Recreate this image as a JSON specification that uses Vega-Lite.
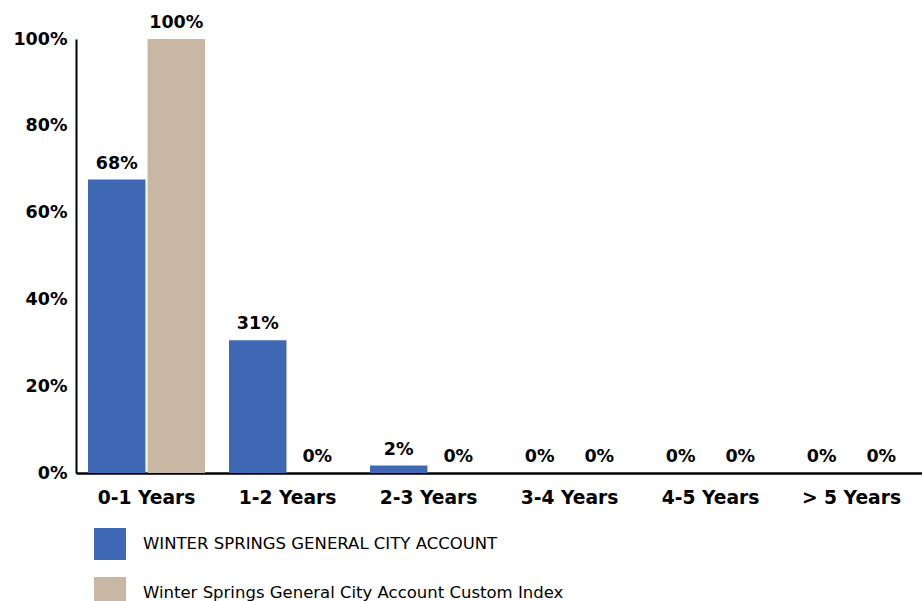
{
  "$schema": "https://vega.github.io/schema/vega-lite/v6.json",
  "width": 846,
  "height": 434,
  "autosize": "none",
  "padding": {"left": 76, "top": 39, "right": 0, "bottom": 128},
  "background": "white",
  "config": {"view": {"stroke": null}, "font": "DejaVu Sans"},
  "data": {"values": [
    {"bucket": "0-1 Years", "series": "WINTER SPRINGS GENERAL CITY ACCOUNT", "value": 0.676},
    {"bucket": "0-1 Years", "series": "Winter Springs General City Account Custom Index", "value": 1.0},
    {"bucket": "1-2 Years", "series": "WINTER SPRINGS GENERAL CITY ACCOUNT", "value": 0.306},
    {"bucket": "1-2 Years", "series": "Winter Springs General City Account Custom Index", "value": 0.0},
    {"bucket": "2-3 Years", "series": "WINTER SPRINGS GENERAL CITY ACCOUNT", "value": 0.017},
    {"bucket": "2-3 Years", "series": "Winter Springs General City Account Custom Index", "value": 0.0},
    {"bucket": "3-4 Years", "series": "WINTER SPRINGS GENERAL CITY ACCOUNT", "value": 0.0},
    {"bucket": "3-4 Years", "series": "Winter Springs General City Account Custom Index", "value": 0.0},
    {"bucket": "4-5 Years", "series": "WINTER SPRINGS GENERAL CITY ACCOUNT", "value": 0.0},
    {"bucket": "4-5 Years", "series": "Winter Springs General City Account Custom Index", "value": 0.0},
    {"bucket": "> 5 Years", "series": "WINTER SPRINGS GENERAL CITY ACCOUNT", "value": 0.0},
    {"bucket": "> 5 Years", "series": "Winter Springs General City Account Custom Index", "value": 0.0}
  ]},
  "encoding": {
    "x": {
      "field": "bucket", "type": "nominal", "sort": null,
      "scale": {"paddingInner": 0.17, "paddingOuter": 0.085},
      "axis": {
        "title": null, "labelAngle": 0, "ticks": false,
        "domainColor": "#000000", "domainWidth": 2.5,
        "labelFont": "DejaVu Sans", "labelFontWeight": "bold", "labelFontSize": 18.7,
        "labelColor": "#000000", "labelPadding": 15
      }
    },
    "xOffset": {"field": "series", "type": "nominal", "scale": {"paddingInner": 0.035}},
    "y": {
      "field": "value", "type": "quantitative",
      "scale": {"domain": [0, 1], "nice": false},
      "axis": {
        "title": null, "format": ".0%", "values": [0, 0.2, 0.4, 0.6, 0.8, 1],
        "grid": false, "ticks": false,
        "domainColor": "#000000", "domainWidth": 2,
        "labelFont": "DejaVu Sans", "labelFontWeight": "bold", "labelFontSize": 17.5,
        "labelColor": "#000000", "labelPadding": 9
      }
    }
  },
  "layer": [
    {
      "mark": {"type": "bar"},
      "encoding": {
        "color": {
          "field": "series", "type": "nominal",
          "scale": {"range": ["#3F69B4", "#C8B8A3"]},
          "legend": {
            "title": null, "orient": "none", "legendX": 18, "legendY": 489,
            "direction": "vertical",
            "symbolType": "square", "symbolSize": 1024, "symbolStrokeWidth": 0,
            "symbolOpacity": 1,
            "labelFont": "DejaVu Sans", "labelFontSize": 16.5, "labelColor": "#000000",
            "labelOffset": 17, "rowPadding": 17, "labelLimit": 700
          }
        }
      }
    },
    {
      "mark": {"type": "text", "baseline": "bottom", "dy": -7, "font": "DejaVu Sans", "fontWeight": "bold", "fontSize": 17.5, "color": "#000000"},
      "encoding": {
        "text": {"field": "value", "type": "quantitative", "format": ".0%"}
      }
    }
  ]
}
